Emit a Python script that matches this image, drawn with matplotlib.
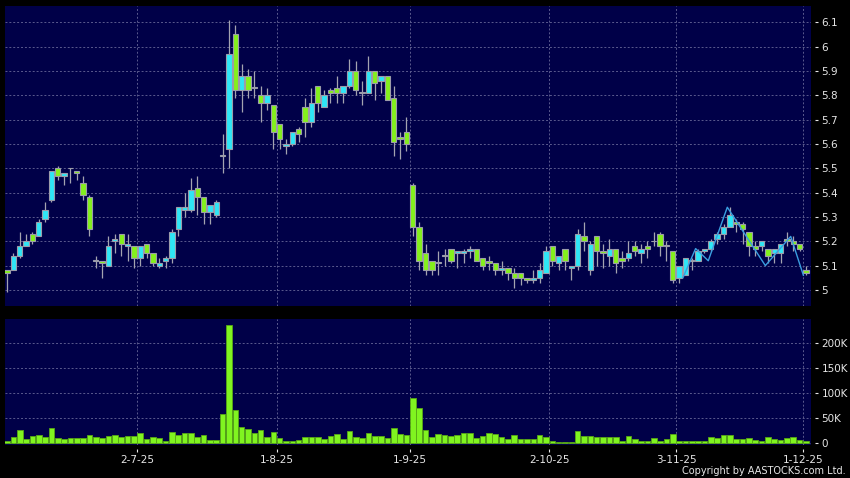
import numpy as np
import matplotlib.pyplot as plt

# daily OHLC, 2-6-25 .. 1-12-25 (HKEX trading days)
opens = [5.08, 5.08, 5.14, 5.18, 5.23, 5.22, 5.29, 5.37, 5.50, 5.47,
         5.50, 5.49, 5.44, 5.38, 5.12, 5.12, 5.10, 5.20, 5.23, 5.18,
         5.18, 5.13, 5.19, 5.15, 5.10, 5.12, 5.13, 5.25, 5.33, 5.33,
         5.42, 5.38, 5.32, 5.31, 5.55, 5.58, 6.05, 5.82, 5.88, 5.83,
         5.80, 5.77, 5.76, 5.68, 5.59, 5.60, 5.66, 5.75, 5.69, 5.84,
         5.75, 5.82, 5.83, 5.81, 5.84, 5.90, 5.81, 5.81, 5.90, 5.86,
         5.88, 5.79, 5.63, 5.65, 5.43, 5.26, 5.15, 5.12, 5.11, 5.14,
         5.17, 5.15, 5.15, 5.16, 5.17, 5.13, 5.12, 5.11, 5.08, 5.09,
         5.07, 5.07, 5.05, 5.04, 5.05, 5.07, 5.18, 5.11, 5.17, 5.09,
         5.10, 5.22, 5.08, 5.22, 5.16, 5.14, 5.17, 5.13, 5.13, 5.18,
         5.15, 5.18, 5.20, 5.23, 5.18, 5.16, 5.05, 5.06, 5.12, 5.12,
         5.16, 5.17, 5.21, 5.23, 5.26, 5.28, 5.27, 5.24, 5.18, 5.18,
         5.17, 5.15, 5.15, 5.21, 5.20, 5.19, 5.08]
highs = [5.08, 5.15, 5.24, 5.23, 5.24, 5.29, 5.36, 5.49, 5.51, 5.48,
         5.50, 5.49, 5.47, 5.39, 5.14, 5.12, 5.22, 5.23, 5.23, 5.23,
         5.18, 5.18, 5.19, 5.15, 5.13, 5.14, 5.25, 5.34, 5.40, 5.46,
         5.47, 5.38, 5.35, 5.37, 5.64, 6.11, 6.09, 5.93, 5.91, 5.90,
         5.84, 5.83, 5.76, 5.68, 5.62, 5.65, 5.67, 5.79, 5.83, 5.84,
         5.82, 5.83, 5.88, 5.84, 5.95, 5.94, 5.86, 5.96, 5.90, 5.88,
         5.88, 5.84, 5.65, 5.71, 5.44, 5.28, 5.19, 5.12, 5.16, 5.17,
         5.17, 5.16, 5.17, 5.18, 5.17, 5.13, 5.14, 5.11, 5.12, 5.09,
         5.09, 5.07, 5.05, 5.08, 5.11, 5.18, 5.18, 5.14, 5.17, 5.10,
         5.25, 5.28, 5.20, 5.22, 5.19, 5.21, 5.17, 5.16, 5.20, 5.20,
         5.19, 5.20, 5.24, 5.24, 5.20, 5.16, 5.10, 5.13, 5.13, 5.17,
         5.17, 5.21, 5.24, 5.27, 5.34, 5.29, 5.28, 5.24, 5.20, 5.20,
         5.17, 5.17, 5.19, 5.24, 5.22, 5.19, 5.10]
lows = [4.99, 5.08, 5.13, 5.18, 5.19, 5.22, 5.28, 5.36, 5.45, 5.43,
        5.44, 5.45, 5.37, 5.22, 5.09, 5.05, 5.10, 5.15, 5.14, 5.12,
        5.09, 5.10, 5.13, 5.10, 5.09, 5.09, 5.11, 5.22, 5.30, 5.32,
        5.31, 5.27, 5.27, 5.30, 5.48, 5.50, 5.79, 5.73, 5.79, 5.79,
        5.69, 5.74, 5.58, 5.58, 5.56, 5.59, 5.61, 5.63, 5.67, 5.73,
        5.75, 5.77, 5.77, 5.77, 5.83, 5.80, 5.76, 5.81, 5.78, 5.81,
        5.78, 5.55, 5.54, 5.57, 5.22, 5.08, 5.06, 5.06, 5.06, 5.10,
        5.11, 5.09, 5.11, 5.13, 5.12, 5.08, 5.08, 5.06, 5.06, 5.04,
        5.01, 5.02, 5.03, 5.03, 5.03, 5.07, 5.10, 5.08, 5.08, 5.04,
        5.08, 5.16, 5.06, 5.10, 5.09, 5.10, 5.07, 5.09, 5.12, 5.14,
        5.11, 5.13, 5.18, 5.14, 5.12, 5.03, 5.03, 5.06, 5.08, 5.12,
        5.15, 5.16, 5.19, 5.21, 5.26, 5.24, 5.19, 5.14, 5.14, 5.16,
        5.11, 5.11, 5.11, 5.18, 5.16, 5.16, 5.06]
closes = [5.07, 5.14, 5.18, 5.20, 5.20, 5.28, 5.33, 5.49, 5.47, 5.48,
          5.50, 5.48, 5.39, 5.25, 5.12, 5.11, 5.18, 5.21, 5.19, 5.19,
          5.13, 5.18, 5.15, 5.11, 5.11, 5.13, 5.24, 5.34, 5.34, 5.41,
          5.38, 5.32, 5.35, 5.36, 5.55, 5.97, 5.82, 5.88, 5.82, 5.83,
          5.77, 5.80, 5.65, 5.62, 5.60, 5.65, 5.64, 5.69, 5.77, 5.77,
          5.80, 5.81, 5.81, 5.84, 5.90, 5.82, 5.81, 5.90, 5.85, 5.88,
          5.78, 5.61, 5.62, 5.60, 5.26, 5.12, 5.08, 5.08, 5.11, 5.14,
          5.12, 5.16, 5.16, 5.17, 5.12, 5.10, 5.11, 5.08, 5.09, 5.07,
          5.05, 5.05, 5.04, 5.05, 5.08, 5.16, 5.12, 5.14, 5.12, 5.10,
          5.23, 5.20, 5.19, 5.16, 5.15, 5.17, 5.11, 5.12, 5.15, 5.16,
          5.17, 5.17, 5.20, 5.18, 5.18, 5.04, 5.10, 5.13, 5.12, 5.16,
          5.17, 5.20, 5.23, 5.26, 5.31, 5.27, 5.25, 5.18, 5.17, 5.20,
          5.14, 5.17, 5.19, 5.20, 5.19, 5.17, 5.07]
volumes = [4700, 12700, 26000, 8000, 14000, 16000, 13000, 31000, 11000, 9000,
           10000, 10000, 11000, 16000, 12000, 11000, 15000, 16000, 13000, 15000,
           14000, 21000, 8000, 12000, 10000, 5000, 23000, 17000, 21000, 21000,
           13000, 16000, 6000, 6000, 59000, 237000, 67000, 32000, 29000, 21000,
           27000, 13000, 23000, 11000, 5000, 5000, 7000, 13000, 13000, 12000,
           9000, 15000, 19000, 9000, 25000, 13000, 10000, 21000, 15000, 15000,
           10000, 30000, 18000, 17000, 91000, 71000, 27000, 13000, 19000, 16000,
           15000, 17000, 21000, 21000, 10000, 15000, 21000, 18000, 13000, 9000,
           16000, 8000, 8000, 9000, 17000, 13000, 4000, 2000, 3000, 3000,
           25000, 15000, 15000, 13000, 13000, 13000, 13000, 5000, 14000, 9000,
           4000, 4000, 11000, 5000, 9000, 19000, 5000, 5000, 5000, 5000,
           5000, 13000, 11000, 17000, 17000, 9000, 9000, 10000, 6000, 5000,
           13000, 8000, 6000, 11000, 12000, 7000, 4000]

# thin blue line over the last weeks (turning points)
line_idx = [107, 109, 111, 114, 120, 124, 126]
line_val = [5.05, 5.17, 5.12, 5.34, 5.10, 5.22, 5.06]

date_idx = [21, 43, 64, 86, 106, 126]
date_labels = ["2-7-25", "1-8-25", "1-9-25", "2-10-25", "3-11-25", "1-12-25"]
price_ticks = [5, 5.1, 5.2, 5.3, 5.4, 5.5, 5.6, 5.7, 5.8, 5.9, 6, 6.1]
price_labels = ["5", "5.1", "5.2", "5.3", "5.4", "5.5", "5.6", "5.7", "5.8", "5.9", "6", "6.1"]
vol_ticks = [0, 50000, 100000, 150000, 200000]
vol_labels = ["0", "50K", "100K", "150K", "200K"]

BG = '#000048'
GRID = '#5a5a8e'
UP = '#2ee6f6'
DOWN = '#84f01c'
TXT = '#e6e6e6'

o = np.array(opens)
c = np.array(closes)
x = np.arange(len(c))
up = c >= o
grid_x = np.array(date_idx) - 0.45

fig = plt.figure(figsize=(8.5, 4.78), dpi=100, facecolor='black')
ax = fig.add_axes([4.5/850, 1-306/478, 806.5/850, 300/478])
axv = fig.add_axes([4.5/850, 1-445/478, 806.5/850, 126/478])

for a in (ax, axv):
    a.set_facecolor(BG)
    a.set_axisbelow(True)
    for s in a.spines.values():
        s.set_visible(False)
    a.spines['right'].set_position(('outward', 3))
    a.spines['bottom'].set_position(('outward', 3))
    a.yaxis.tick_right()
    a.tick_params(axis='y', direction='out', length=2.5, width=0.8, pad=2,
                  colors=TXT, labelsize=7.5)
    a.set_xticks(grid_x)
    a.grid(True, color=GRID, ls=(0, (2, 2)), lw=0.7)
    a.set_xlim(-0.4, 126.8)

# candles
ax.vlines(x, lows, highs, color='#a4a4b0', lw=0.9, zorder=2)
body_bot = np.minimum(o, c)
body_h = np.maximum(np.abs(c - o), 0.003)
ax.bar(x, body_h, bottom=body_bot, width=0.84, color=np.where(up, UP, DOWN),
       edgecolor='#9c9caa', linewidth=0.8, zorder=3)
ax.plot(np.array(line_idx) - 0.4, line_val, color='#3a9ee0', lw=1, zorder=4)
ax.set_ylim(4.934, 6.167)
ax.set_yticks(price_ticks)
ax.set_yticklabels(price_labels)
ax.tick_params(axis='x', length=0, labelbottom=False)

# volume
axv.bar(x, volumes, width=0.88, color='#80f420', edgecolor='#58a814', linewidth=0.6, zorder=3)
axv.set_ylim(-3400, 248600)
axv.set_yticks(vol_ticks)
axv.set_yticklabels(vol_labels)
axv.set_xticklabels(date_labels)
axv.tick_params(axis='x', direction='out', length=2.5, width=0.8, pad=2,
                colors=TXT, labelsize=7.5)

fig.text(846/850, 1-471/478, "Copyright by AASTOCKS.com Ltd.", color=TXT,
         fontsize=7, ha='right', va='center')

fig.savefig('out.png', dpi=100, facecolor='black')
